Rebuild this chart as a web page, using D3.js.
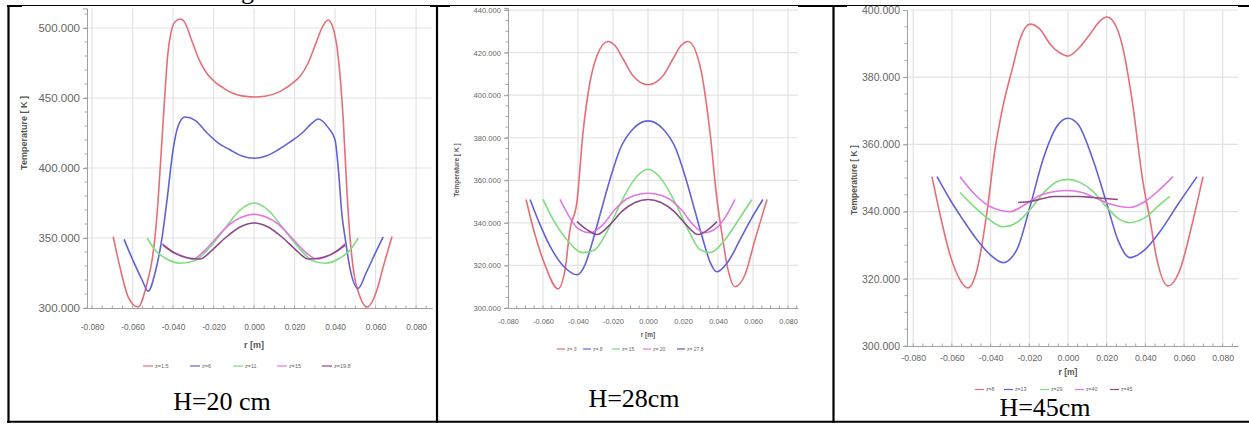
<!DOCTYPE html>
<html>
<head>
<meta charset="utf-8">
<script src="https://cdn.jsdelivr.net/npm/d3@7"></script>
<style>
  body { margin: 0; background: #fff; }
  svg { display: block; }
</style>
</head>
<body>
<div id="chart"></div>
<script>
// ---- DATA (r [m], Temperature [K]) ----

// H = 20 cm
const h20_z1_5 = [[-0.0696,351],[-0.0662,329],[-0.0622,308],[-0.0573,300.7],[-0.0528,318],[-0.0504,334],[-0.0489,351],[-0.0474,377],[-0.0457,415],[-0.0442,449],[-0.0427,480],[-0.0410,497],[-0.0390,504.5],[-0.0365,506.4],[-0.0340,503.5],[-0.0310,492],[-0.0267,476],[-0.0230,467],[-0.0193,461.4],[-0.0150,457],[-0.0119,454.3],[-0.006,451.5],[0,450.7],
  [0.006,451.4],[0.0119,454],[0.0150,456.5],[0.0193,461],[0.0230,466],[0.0267,475],[0.0305,489],[0.0335,500],[0.0365,505.7],[0.0392,499],[0.0415,480],[0.0440,435],[0.0459,382],[0.0474,350],[0.0489,329],[0.0523,308],[0.0558,300.7],[0.0607,313],[0.0637,329],[0.0681,351]];
const h20_z6 = [[-0.0642,349],[-0.0598,334],[-0.0553,320],[-0.0523,312],[-0.0489,325],[-0.0454,350.7],[-0.0430,377],[-0.0400,413],[-0.0375,430],[-0.0341,436.4],[-0.0291,434],[-0.0232,425],[-0.0178,418],[-0.0119,413],[-0.0059,408.6],[0,407],
  [0.0059,408.6],[0.0119,413],[0.0178,418.6],[0.0237,425],[0.0286,432],[0.0316,435],[0.0365,429],[0.0400,420],[0.0415,401],[0.0435,365],[0.0449,350.7],[0.0474,328],[0.0514,314],[0.0553,325],[0.0598,339],[0.0637,350.7]];
const h20_z11 = [[-0.0528,350],[-0.0489,341.4],[-0.044,335.7],[-0.0365,332],[-0.0291,334],[-0.0217,343.6],[-0.0143,357],[-0.0069,370],[0,375],
  [0.0069,370],[0.0143,357],[0.0217,343.6],[0.0286,334],[0.0351,332],[0.0425,335.7],[0.0474,341.4],[0.0514,350]];
const h20_z15 = [[-0.0454,346],[-0.0415,341.4],[-0.0365,337.9],[-0.0301,335],[-0.0242,341.4],[-0.0178,351.4],[-0.0119,360],[-0.0059,365],[0,367],
  [0.0059,365],[0.0119,360],[0.0178,351.4],[0.0242,341.4],[0.0311,335],[0.0375,337.9],[0.0415,341.4],[0.0449,346]];
const h20_z19_8 = [[-0.045,345],[-0.039,339],[-0.0326,335.7],[-0.0267,335],[-0.0207,341.4],[-0.0143,350],[-0.0069,357.9],[0,360.7],
  [0.0069,357.9],[0.0143,350],[0.0207,341.4],[0.0267,335],[0.0326,335.7],[0.039,339],[0.045,345]];

// H = 28 cm
const h28_z3 = [[-0.0697,351],[-0.0646,334.5],[-0.0589,320.3],[-0.0514,309],[-0.0474,318],[-0.0446,336.8],[-0.0406,350],[-0.0371,382.7],[-0.0331,406.3],[-0.0291,418.6],[-0.0229,425.2],[-0.0189,423.3],[-0.0143,417.1],[-0.0086,409.1],[0,404.9],
  [0.0086,409.1],[0.0143,417.1],[0.0189,423.3],[0.0229,425.2],[0.0297,413.8],[0.0354,382.7],[0.0394,351],[0.0423,334.5],[0.0457,318],[0.0497,310],[0.0554,315.6],[0.0611,332],[0.068,351]];
const h28_z8 = [[-0.0674,351],[-0.0617,339.2],[-0.0549,327.4],[-0.0474,318.9],[-0.0406,315.6],[-0.036,320.3],[-0.0314,332.1],[-0.0274,343.9],[-0.0217,360.5],[-0.016,374.6],[-0.0086,384.1],[0,387.9],
  [0.0086,384.1],[0.016,374.6],[0.0217,360.5],[0.0274,343.9],[0.0314,332.1],[0.0354,321.7],[0.0394,317],[0.0457,321.7],[0.0526,332.1],[0.0594,342.5],[0.0657,351]];
const h28_z15 = [[-0.06,351],[-0.0543,341.6],[-0.0474,333.1],[-0.0371,326],[-0.0303,327.4],[-0.0234,335.9],[-0.016,348.7],[-0.0086,359.5],[0,365.2],
  [0.0086,359.5],[0.016,348.7],[0.0234,335.9],[0.0297,327.4],[0.0354,326],[0.044,332.1],[0.0526,342.5],[0.0594,351]];
const h28_z20 = [[-0.0503,351],[-0.0457,343.9],[-0.0406,337.8],[-0.0331,335.4],[-0.0257,339.2],[-0.0189,346.3],[-0.0103,352],[0,353.9],
  [0.0103,352],[0.0189,346.3],[0.0257,339.2],[0.032,335.4],[0.0394,337.8],[0.0451,343.9],[0.0497,351]];
const h28_z27_8 = [[-0.0406,340.6],[-0.0349,336.8],[-0.0291,334.5],[-0.0217,339.2],[-0.0149,345.4],[-0.0074,349.6],[0,351],
  [0.0074,349.6],[0.0149,345.4],[0.0217,339.2],[0.0286,334.5],[0.0343,336.8],[0.0394,340.6]];

// H = 45 cm
const h45_z8 = [[-0.0703,350.4],[-0.0661,339.1],[-0.061,327.2],[-0.0558,319.7],[-0.0517,317.3],[-0.047,322.7],[-0.0419,339.7],[-0.0377,358.5],[-0.0336,371.3],[-0.0284,383.3],[-0.0248,391.3],[-0.0196,395.8],[-0.0145,394.3],[-0.0093,389.9],[-0.0041,387.2],[0,386.3],
  [0.0052,388.4],[0.0114,392.8],[0.0165,396.7],[0.0202,397.9],[0.0243,395.8],[0.0279,389.9],[0.0331,373.4],[0.0388,348.7],[0.0424,337.6],[0.046,325.7],[0.0517,317.9],[0.0579,322.7],[0.0641,336.1],[0.0698,350.4]];
const h45_z13 = [[-0.0677,350.4],[-0.061,343.6],[-0.0543,337.6],[-0.047,331.6],[-0.0403,327.2],[-0.0336,324.8],[-0.0264,328.7],[-0.0196,341.5],[-0.0129,355.5],[-0.0057,365.4],[0,367.8],
  [0.0052,366],[0.0129,355.5],[0.0202,342.1],[0.0258,331.6],[0.032,326.3],[0.0398,328.7],[0.0475,334],[0.0568,342.1],[0.0667,350.4]];
const h45_z29 = [[-0.0558,345.7],[-0.0496,342.1],[-0.0419,338.2],[-0.0336,335.5],[-0.0258,337],[-0.0196,340.6],[-0.0119,346],[-0.0052,349],[0,349.6],
  [0.0062,348.7],[0.0129,346],[0.0202,341.2],[0.0269,337.6],[0.032,336.7],[0.0398,338.2],[0.0475,342.1],[0.0527,344.5]];
const h45_z40 = [[-0.0558,350.4],[-0.0481,345.1],[-0.0403,341.5],[-0.03,340],[-0.0222,342.1],[-0.0145,344.8],[-0.0067,346],[0,346.3],
  [0.0072,345.7],[0.015,343.9],[0.0227,342.1],[0.032,341.2],[0.0398,343],[0.0475,346.6],[0.0543,350.4]];
const h45_z45 = [[-0.0258,342.7],[-0.0196,343],[-0.0129,343.9],[-0.0067,344.5],[0,344.5],[0.0062,344.5],[0.0129,344.2],[0.0191,343.9],[0.0258,343.6]];

// legends, ticks, captions
const legendH20 = ["z=1.5", "z=6", "z=11", "z=15", "z=19.8"];
const legendH28 = ["z= 3", "z= 8", "z= 15", "z= 20", "z= 27.8"];
const legendH45 = ["z=8", "z=13", "z=29", "z=40", "z=45"];
const xTicks = [-0.08, -0.06, -0.04, -0.02, 0, 0.02, 0.04, 0.06, 0.08];
const yTicksH20 = [300, 350, 400, 450, 500];
const yTicksH28 = [300, 320, 340, 360, 380, 400, 420, 440];
const yTicksH45 = [300, 320, 340, 360, 380, 400];
const captions = ["H=20 cm", "H=28cm", "H=45cm"];
const seriesColors = ["#e66e78", "#6262d6", "#7ede7e", "#e078e0", "#8a4c86"];

// ---- LAYOUT ----
const W = 1249, H = 424;
const svg = d3.select("#chart").append("svg")
    .attr("width", W).attr("height", H)
    .style("font-family", "'Liberation Sans', Arial, sans-serif");
svg.append("rect").attr("width", W).attr("height", H).attr("fill", "#fff");

const panels = [
  { series: [h20_z1_5, h20_z6, h20_z11, h20_z15, h20_z19_8], legend: legendH20, yTicks: yTicksH20, yMinor: 10,
    xDomain: [-0.0825, 0.088], xRange: [87, 432.3], yDomain: [300, 514], yRange: [308, 8.4],
    cell: [9, 6, 427, 415], yFs: 11.5, xFs: 8.3, titleFs: 9, xLabelDy: 21, xTitleY: 348, yTitleX: 27, yTitleY: 133,
    legendY: 366, legendX: [143, 190, 233, 277, 322], legendFs: 5.5, legendSeg: 10,
    caption: [222, 410] },
  { series: [h28_z3, h28_z8, h28_z15, h28_z20, h28_z27_8], legend: legendH28, yTicks: yTicksH28, yMinor: 5,
    xDomain: [-0.08, 0.0857], xRange: [508, 798], yDomain: [300, 441], yRange: [308, 7.9],
    cell: [438, 6, 394, 415], yFs: 7.6, xFs: 7.4, titleFs: 6.5, xLabelDy: 15, xTitleY: 337, yTitleX: 459, yTitleY: 170,
    legendY: 349, legendX: [557, 583, 612, 643, 677], legendFs: 5, legendSeg: 8,
    caption: [634, 407] },
  { series: [h45_z8, h45_z13, h45_z29, h45_z40, h45_z45], legend: legendH45, yTicks: yTicksH45, yMinor: 5,
    xDomain: [-0.0832, 0.0879], xRange: [907, 1238], yDomain: [300, 400], yRange: [346, 10],
    cell: [834, 6, 415, 415], yFs: 10.5, xFs: 8.7, titleFs: 8.5, xLabelDy: 14, xTitleY: 375, yTitleX: 857, yTitleY: 180,
    legendY: 389.5, legendX: [975, 1004, 1040, 1075, 1110], legendFs: 5.2, legendSeg: 9,
    caption: [1045, 416] }
];

const fmt = d => d.toFixed(3);

panels.forEach((p, i) => {
  const clipId = "cell" + i;
  svg.append("clipPath").attr("id", clipId).append("rect")
      .attr("x", p.cell[0]).attr("y", p.cell[1]).attr("width", p.cell[2]).attr("height", p.cell[3]);
  const g = svg.append("g").attr("clip-path", `url(#${clipId})`);

  const x = d3.scaleLinear().domain(p.xDomain).range(p.xRange);
  const y = d3.scaleLinear().domain(p.yDomain).range(p.yRange);
  const [x0, x1] = p.xRange, [yb, yt] = p.yRange;

  // grid
  g.append("g").selectAll("line").data(xTicks.filter(t => x(t) > x0 + 2)).join("line")
      .attr("x1", d => x(d)).attr("x2", d => x(d)).attr("y1", yb).attr("y2", yt)
      .attr("stroke", "#e3e3e3").attr("stroke-width", 1.2);
  g.append("g").selectAll("line").data(p.yTicks.filter(t => t > p.yDomain[0])).join("line")
      .attr("x1", x0).attr("x2", x1).attr("y1", d => y(d)).attr("y2", d => y(d))
      .attr("stroke", "#e3e3e3").attr("stroke-width", 1.2);

  // minor ticks
  const xMinor = d3.range(-0.08, 0.0851, 0.005).filter(t => x(t) > x0 + 1 && x(t) < x1);
  g.append("g").selectAll("line").data(xMinor).join("line")
      .attr("x1", d => x(d)).attr("x2", d => x(d)).attr("y1", yb).attr("y2", yb - 2.5)
      .attr("stroke", "#aaa");
  const yMinor = d3.range(p.yDomain[0], p.yDomain[1], p.yMinor);
  g.append("g").selectAll("line").data(yMinor).join("line")
      .attr("x1", x0).attr("x2", x0 - 2.5).attr("y1", d => y(d)).attr("y2", d => y(d))
      .attr("stroke", "#aaa");

  // axes
  const yAxis = g.append("g").attr("transform", `translate(${x0},0)`)
      .call(d3.axisLeft(y).tickValues(p.yTicks).tickFormat(fmt).tickSize(4).tickPadding(3));
  yAxis.selectAll("text").attr("font-size", p.yFs).attr("fill", "#666").attr("font-family", "'Liberation Sans', Arial, sans-serif");
  yAxis.selectAll("line, path").attr("stroke", "#a0a0a0");

  const xAxis = g.append("g").attr("transform", `translate(0,${yb})`)
      .call(d3.axisBottom(x).tickValues(xTicks).tickFormat(fmt).tickSize(0).tickPadding(p.xLabelDy - p.xFs * 0.6));
  xAxis.selectAll("text").attr("font-size", p.xFs).attr("fill", "#666").attr("font-family", "'Liberation Sans', Arial, sans-serif");
  xAxis.selectAll("path").attr("stroke", "#a0a0a0");

  // axis titles
  g.append("text").attr("x", (x(0))).attr("y", p.xTitleY)
      .attr("text-anchor", "middle").attr("font-size", p.titleFs).attr("font-weight", "bold")
      .attr("fill", "#555").text("r [m]");
  g.append("text").attr("transform", `translate(${p.yTitleX},${p.yTitleY}) rotate(-90)`)
      .attr("text-anchor", "middle").attr("font-size", p.titleFs).attr("font-weight", "bold")
      .attr("fill", "#555").text("Temperature [ K ]");

  // curves
  const line = d3.line().x(d => x(d[0])).y(d => y(d[1])).curve(d3.curveMonotoneX);
  g.append("g").selectAll("path").data(p.series).join("path")
      .attr("d", line).attr("fill", "none")
      .attr("stroke", (d, k) => seriesColors[k]).attr("stroke-width", 1.6);

  // legend
  const lg = g.append("g").selectAll("g").data(p.legend).join("g")
      .attr("transform", (d, k) => `translate(${p.legendX[k]},${p.legendY})`);
  lg.append("line").attr("x1", 0).attr("x2", p.legendSeg).attr("y1", 0).attr("y2", 0)
      .attr("stroke", (d, k) => seriesColors[k]).attr("stroke-width", 1.2);
  lg.append("text").attr("x", p.legendSeg + 2).attr("y", p.legendFs * 0.35)
      .attr("font-size", p.legendFs).attr("fill", "#666").text(d => d);

  // caption
  svg.append("text").attr("x", p.caption[0]).attr("y", p.caption[1])
      .attr("text-anchor", "middle").attr("font-family", "'Liberation Serif', 'Times New Roman', serif")
      .attr("font-size", 26).attr("fill", "#000").text(captions[i]);
});

// table borders
const border = svg.append("g").attr("stroke", "#000").attr("fill", "none");
border.append("line").attr("x1", 7).attr("x2", 1240).attr("y1", 5.5).attr("y2", 5.5).attr("stroke-width", 1);
[[7, 22], [430, 450], [798, 847], [1238, 1249]].forEach(s =>
  border.append("line").attr("x1", s[0]).attr("x2", s[1]).attr("y1", 6).attr("y2", 6).attr("stroke-width", 2));
[8.5, 437, 833.5].forEach(xv =>
  border.append("line").attr("x1", xv).attr("x2", xv).attr("y1", 5).attr("y2", 423).attr("stroke-width", 2.2));
border.append("line").attr("x1", 7).attr("x2", 1249).attr("y1", 421.8).attr("y2", 421.8).attr("stroke-width", 2);

// descender of the caption text above the table
svg.append("text").attr("x", 241).attr("y", -1.5)
    .attr("font-family", "'Liberation Serif', 'Times New Roman', serif").attr("font-size", 26).text("g");
</script>
</body>
</html>
